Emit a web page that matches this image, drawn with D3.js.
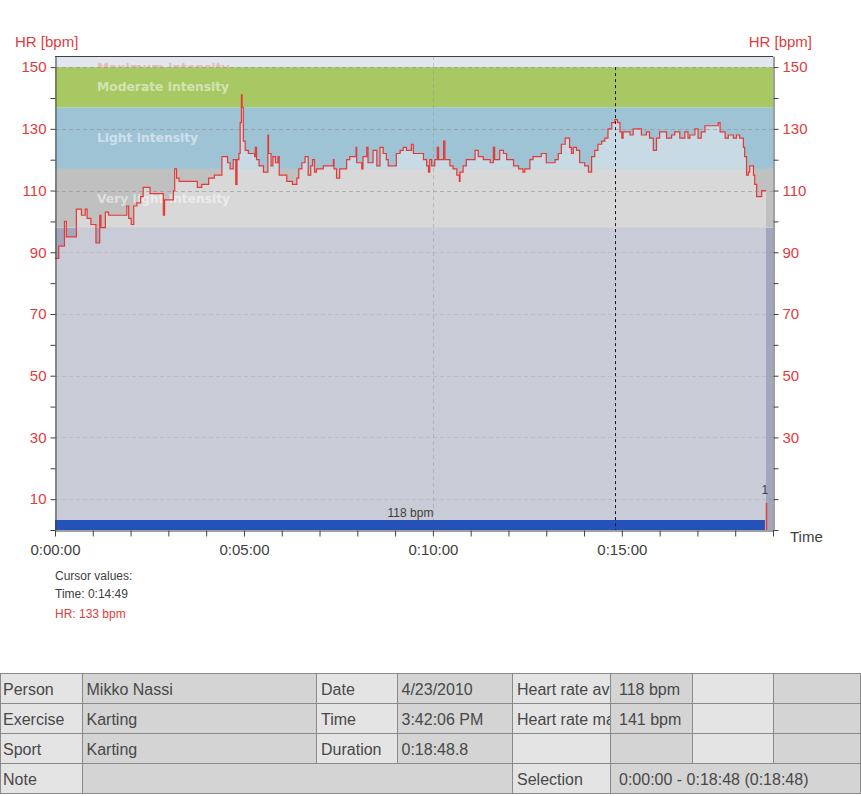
<!DOCTYPE html>
<html>
<head>
<meta charset="utf-8">
<script src="https://cdn.jsdelivr.net/npm/d3@7"></script>
<style>
body { margin: 0; background: #fff; }
svg { display: block; font-family: "Liberation Sans", Arial, sans-serif; }
</style>
</head>
<body>
<div id="chart"></div>
<script>
// heart rate samples (seconds from start, bpm)
const hrTimeSec = [
	0, 6, 15, 18, 34, 42, 48, 51, 57, 65,
	71, 73, 80, 85, 114, 117, 121, 125, 130, 136,
	140, 151, 172, 174, 188, 190, 193, 197, 226, 233,
	244, 253, 265, 274, 278, 283, 287, 289, 292, 294,
	296, 297, 299, 302, 307, 317, 318, 320, 324, 331,
	338, 339, 343, 346, 350, 354, 356, 368, 377, 384,
	387, 392, 397, 402, 406, 409, 412, 415, 426, 442,
	443, 447, 452, 463, 468, 478, 479, 487, 489, 495,
	497, 505, 511, 516, 521, 526, 529, 542, 548, 553,
	558, 566, 569, 585, 590, 593, 595, 598, 603, 607,
	609, 617, 619, 627, 632, 638, 642, 643, 648, 653,
	667, 672, 680, 691, 696, 698, 706, 712, 717, 728,
	736, 743, 746, 754, 759, 772, 780, 794, 799, 804,
	810, 817, 820, 823, 828, 833, 841, 847, 852, 857,
	862, 868, 873, 878, 884, 889, 893, 897, 900, 902,
	913, 918, 931, 939, 944, 950, 955, 960, 971, 979,
	984, 992, 1000, 1005, 1008, 1016, 1021, 1026, 1032, 1053,
	1056, 1064, 1069, 1077, 1082, 1087, 1093, 1095, 1098, 1101,
	1103, 1109, 1111, 1114, 1122, 1128.8
];
const hrBpm = [
	88, 92, 100, 95, 104, 102, 104, 101, 99, 93,
	102, 98, 103, 102, 105, 101, 99, 105, 106, 108,
	111, 109, 102, 107, 110, 117, 114, 113, 111, 112,
	114, 115, 121, 119, 117, 120, 112, 120, 122, 132,
	141, 137, 126, 123, 122, 121, 124, 120, 118, 116,
	128, 122, 118, 121, 119, 121, 115, 113, 112, 114,
	117, 119, 121, 115, 118, 120, 116, 117, 118, 120,
	117, 114, 117, 120, 121, 124, 119, 117, 121, 124,
	119, 123, 118, 124, 122, 120, 118, 122, 123, 124,
	123, 125, 122, 120, 118, 116, 120, 118, 120, 124,
	120, 126, 120, 118, 117, 115, 113, 116, 118, 120,
	123, 121, 120, 119, 124, 120, 123, 122, 120, 118,
	117, 116, 117, 120, 121, 122, 119, 120, 122, 125,
	127, 124, 122, 124, 123, 119, 118, 116, 121, 123,
	125, 126, 127, 130, 132, 133, 132, 129, 127, 129,
	128, 130, 128, 129, 127, 123, 127, 129, 127, 128,
	129, 127, 129, 127, 128, 130, 127, 129, 131, 132,
	129, 127, 128, 127, 128, 127, 124, 121, 115, 116,
	118, 115, 112, 108, 110, 110
];

// intensity zones (bpm)
const zoneNames = ['', 'Very light intensity', 'Light intensity', 'Moderate intensity', 'Maximum intensity'];
const zoneLow = [0, 98, 117, 137, 150];
const zoneHigh = [98, 117, 137, 150, 170];

const avgHr = 118;
const cursorSec = 889;
const cursorHr = 133;
const lapSec = [1128.8];
const lapLabels = ['1'];

const yTicks = [0, 10, 20, 30, 40, 50, 60, 70, 80, 90, 100, 110, 120, 130, 140, 150];
const xTicksSec = d3.range(0, 1141, 60);

// summary table
const tableLabelsA = ['Person', 'Exercise', 'Sport', 'Note'];
const tableValuesA = ['Mikko Nassi', 'Karting', 'Karting', ''];
const tableLabelsB = ['Date', 'Time', 'Duration'];
const tableValuesB = ['4/23/2010', '3:42:06 PM', '0:18:48.8'];
const tableLabelsC = ['Heart rate average', 'Heart rate maximum', '', 'Selection'];
const tableValuesC = ['118 bpm', '141 bpm', '', '0:00:00 - 0:18:48 (0:18:48)'];

const zoneDark = ['#a3a7bb', '#c0c0c0', '#9dc3d5', '#a8c864', '#e2e6ee'];
const zoneLight = ['#c9ccd6', '#d8d8d8', '#c8dae3', '#d0e2a8', '#eef0f4'];
const red = '#e03c3c';
const grey = '#404040';

const plot = {left: 55, right: 773, top: 56, bottom: 530};

const svg = d3.select('#chart').append('svg')
	.attr('width', 861)
	.attr('height', 796);

const x = d3.scaleLinear().domain([0, 1140]).range([plot.left, plot.right]);
const y = d3.scaleLinear().domain([0, 153.6]).range([plot.bottom, plot.top]);

const fmtTime = s => {
	const h = Math.floor(s / 3600), m = Math.floor(s / 60) % 60, sec = Math.floor(s % 60);
	return `${h}:${String(m).padStart(2, '0')}:${String(sec).padStart(2, '0')}`;
};

const hrData = hrTimeSec.map((t, i) => [t, hrBpm[i]]);
const endSec = hrTimeSec[hrTimeSec.length - 1];

const defs = svg.append('defs');
defs.append('clipPath').attr('id', 'plotClip')
	.append('rect')
	.attr('x', plot.left).attr('y', plot.top)
	.attr('width', plot.right - plot.left).attr('height', plot.bottom - plot.top);

const area = d3.area()
	.curve(d3.curveStepAfter)
	.x(d => x(d[0]))
	.y0(y(0))
	.y1(d => y(d[1]));
defs.append('clipPath').attr('id', 'underClip')
	.append('path')
	.attr('d', area(hrData));

defs.append('clipPath').attr('id', 'maxLabelClip')
	.append('rect')
	.attr('x', plot.left).attr('y', plot.top)
	.attr('width', plot.right - plot.left).attr('height', y(150) - plot.top);

const plotG = svg.append('g').attr('clip-path', 'url(#plotClip)');

// zone backgrounds: darker above the curve, lighter below it
plotG.append('g').selectAll('rect')
	.data(zoneLow)
	.enter()
	.append('rect')
		.attr('x', plot.left)
		.attr('width', plot.right - plot.left)
		.attr('y', (d, i) => y(zoneHigh[i]))
		.attr('height', (d, i) => y(d) - y(zoneHigh[i]))
		.attr('fill', (d, i) => zoneDark[i]);

plotG.append('g').attr('clip-path', 'url(#underClip)')
	.selectAll('rect')
	.data(zoneLow)
	.enter()
	.append('rect')
		.attr('x', plot.left)
		.attr('width', plot.right - plot.left)
		.attr('y', (d, i) => y(zoneHigh[i]))
		.attr('height', (d, i) => y(d) - y(zoneHigh[i]))
		.attr('fill', (d, i) => zoneLight[i]);

// zone labels
plotG.append('g')
	.style('font-family', '"DejaVu Sans", Verdana, sans-serif')
	.style('font-weight', 'bold')
	.style('font-size', '12.3px')
	.selectAll('text')
	.data([1, 2, 3])
	.enter()
	.append('text')
		.attr('x', 97)
		.attr('y', i => (y(zoneLow[i]) + y(zoneHigh[i])) / 2)
		.attr('dy', '0.35em')
		.attr('fill', '#fff')
		.attr('fill-opacity', 0.5)
		.text(i => zoneNames[i]);

plotG.append('text')
	.attr('clip-path', 'url(#maxLabelClip)')
	.attr('x', 97)
	.attr('y', y(150) + 1)
	.attr('dy', '0.35em')
	.style('font-family', '"DejaVu Sans", Verdana, sans-serif')
	.style('font-weight', 'bold')
	.style('font-size', '12.3px')
	.attr('fill', '#f08060')
	.attr('fill-opacity', 0.45)
	.text(zoneNames[4]);

// grid: clear in the zone bands, faint in the low area
const gridOpacity = d => d >= 98 ? 0.55 : 0.25;
const grid = plotG.append('g')
	.attr('stroke', '#8c8c8c')
	.attr('stroke-dasharray', '4,3')
	.attr('shape-rendering', 'crispEdges');
grid.selectAll('.hgrid')
	.data(yTicks.filter(d => d % 20 === 10))
	.enter()
	.append('line')
		.classed('hgrid', true)
		.attr('stroke-opacity', gridOpacity)
		.attr('x1', plot.left).attr('x2', plot.right)
		.attr('y1', d => Math.round(y(d)) + 0.5).attr('y2', d => Math.round(y(d)) + 0.5);
grid.selectAll('.vgrid')
	.data(xTicksSec.filter(d => d % 600 === 0 && d > 0))
	.enter()
	.append('line')
		.classed('vgrid', true)
		.attr('stroke-opacity', 0.4)
		.attr('x1', d => Math.round(x(d)) + 0.5).attr('x2', d => Math.round(x(d)) + 0.5)
		.attr('y1', plot.top).attr('y2', plot.bottom);

// average bar
plotG.append('rect')
	.attr('x', x(0))
	.attr('width', x(endSec) - x(0) - 1)
	.attr('y', plot.bottom - 10)
	.attr('height', 10)
	.attr('fill', '#2452b8');

svg.append('text')
	.attr('x', (x(0) + x(endSec)) / 2)
	.attr('y', plot.bottom - 13)
	.attr('text-anchor', 'middle')
	.attr('fill', grey)
	.style('font-size', '12px')
	.text(`${avgHr} bpm`);

// HR curve
const line = d3.line()
	.curve(d3.curveStepAfter)
	.x(d => x(d[0]))
	.y(d => y(d[1]));
plotG.append('path')
	.datum(hrData)
	.attr('d', line)
	.attr('fill', 'none')
	.attr('stroke', '#e33a36')
	.attr('stroke-width', 1.2);

// lap markers
lapSec.forEach((t, i) => {
	plotG.append('line')
		.attr('x1', Math.round(x(t)) + 0.5).attr('x2', Math.round(x(t)) + 0.5)
		.attr('y1', plot.bottom).attr('y2', plot.bottom - 27)
		.attr('stroke', red)
		.attr('stroke-width', 1.5);
	svg.append('text')
		.attr('x', x(t) - 1)
		.attr('y', plot.bottom - 36)
		.attr('text-anchor', 'middle')
		.attr('fill', grey)
		.style('font-size', '12px')
		.text(lapLabels[i]);
});

// cursor
svg.append('line')
	.attr('x1', Math.round(x(cursorSec)) + 0.5).attr('x2', Math.round(x(cursorSec)) + 0.5)
	.attr('y1', y(150)).attr('y2', plot.bottom)
	.attr('stroke', '#1c1028')
	.attr('stroke-dasharray', '3,3');

// frame and axes
svg.append('line')
	.attr('x1', plot.left).attr('x2', plot.right)
	.attr('y1', plot.top + 0.5).attr('y2', plot.top + 0.5)
	.attr('stroke', grey);

const styleAxis = (g, color) => {
	g.select('.domain').attr('stroke', grey);
	g.selectAll('.tick line').attr('stroke', grey);
	g.selectAll('.tick text').attr('fill', color).style('font-size', '15px');
};

const yAxisL = d3.axisLeft(y)
	.tickValues(yTicks)
	.tickSize(5)
	.tickSizeOuter(0)
	.tickPadding(4)
	.tickFormat(d => d % 20 === 10 ? d : '');
svg.append('g')
	.attr('transform', `translate(${plot.left + 0.5}, 0)`)
	.call(yAxisL)
	.call(g => styleAxis(g, red));

const yAxisR = d3.axisRight(y)
	.tickValues(yTicks)
	.tickSize(5)
	.tickSizeOuter(0)
	.tickPadding(4)
	.tickFormat(d => d % 20 === 10 && d >= 30 ? d : '');
svg.append('g')
	.attr('transform', `translate(${plot.right + 0.5}, 0)`)
	.call(yAxisR)
	.call(g => styleAxis(g, red));

const xAxis = d3.axisBottom(x)
	.tickValues(xTicksSec)
	.tickSize(6)
	.tickSizeOuter(0)
	.tickFormat(d => d % 300 === 0 ? fmtTime(d) : '');
svg.append('g')
	.attr('transform', `translate(0, ${plot.bottom + 0.5})`)
	.call(xAxis)
	.call(g => styleAxis(g, grey))
	.call(g => g.selectAll('.tick text').attr('y', 14));

svg.append('text')
	.attr('x', 15).attr('y', 47)
	.attr('fill', red)
	.style('font-size', '15px')
	.text('HR [bpm]');
svg.append('text')
	.attr('x', 812).attr('y', 47)
	.attr('text-anchor', 'end')
	.attr('fill', red)
	.style('font-size', '15px')
	.text('HR [bpm]');
svg.append('text')
	.attr('x', 790).attr('y', 542)
	.attr('fill', grey)
	.style('font-size', '15px')
	.text('Time');

// cursor readout
const readout = svg.append('g').style('font-size', '12px');
readout.append('text').attr('x', 55).attr('y', 580).attr('fill', grey).text('Cursor values:');
readout.append('text').attr('x', 55).attr('y', 598).attr('fill', grey).text(`Time: ${fmtTime(cursorSec)}`);
readout.append('text').attr('x', 55).attr('y', 618).attr('fill', red).text(`HR: ${cursorHr} bpm`);

// summary table
const colX = [0, 82, 316, 397, 512, 610, 692, 773, 860];
const colPad = [3, 4.5, 5, 4.5, 5, 9, 4.5, 4.5];
const rowY = [673, 703, 733, 763, 793];

const cells = [];
tableLabelsA.forEach((label, r) => {
	if (r < 3) {
		[label, tableValuesA[r], tableLabelsB[r], tableValuesB[r], tableLabelsC[r], tableValuesC[r], '', '']
			.forEach((text, c) => cells.push({r, c, span: 1, text}));
	} else {
		cells.push({r, c: 0, span: 1, text: label});
		cells.push({r, c: 1, span: 3, text: tableValuesA[r]});
		cells.push({r, c: 4, span: 1, text: tableLabelsC[r]});
		cells.push({r, c: 5, span: 3, text: tableValuesC[r]});
	}
});

const table = svg.append('g').style('font-size', '16px');
const cellG = table.selectAll('g')
	.data(cells)
	.enter()
	.append('g');

cellG.append('clipPath')
	.attr('id', (d, i) => `cell${i}`)
	.append('rect')
		.attr('x', d => colX[d.c])
		.attr('y', d => rowY[d.r])
		.attr('width', d => colX[d.c + d.span] - colX[d.c])
		.attr('height', d => rowY[d.r + 1] - rowY[d.r]);

cellG.append('rect')
	.attr('x', d => colX[d.c] + 0.5)
	.attr('y', d => rowY[d.r] + 0.5)
	.attr('width', d => colX[d.c + d.span] - colX[d.c])
	.attr('height', d => rowY[d.r + 1] - rowY[d.r])
	.attr('fill', d => d.c % 2 === 0 ? '#e4e4e4' : '#d4d4d4')
	.attr('stroke', '#8a8a8a');

cellG.append('text')
	.attr('clip-path', (d, i) => `url(#cell${i})`)
	.attr('x', d => colX[d.c] + colPad[d.c])
	.attr('y', d => rowY[d.r] + 22)
	.attr('fill', '#484848')
	.text(d => d.text)
	.each(function(d) {
		// cut long labels at the cell edge, like the original grid does
		const room = colX[d.c + d.span] - colX[d.c] - colPad[d.c] + 8;
		let s = d.text;
		while (s.length > 1 && this.getComputedTextLength() > room) {
			s = s.slice(0, -1);
			this.textContent = s;
		}
	});
</script>
</body>
</html>
